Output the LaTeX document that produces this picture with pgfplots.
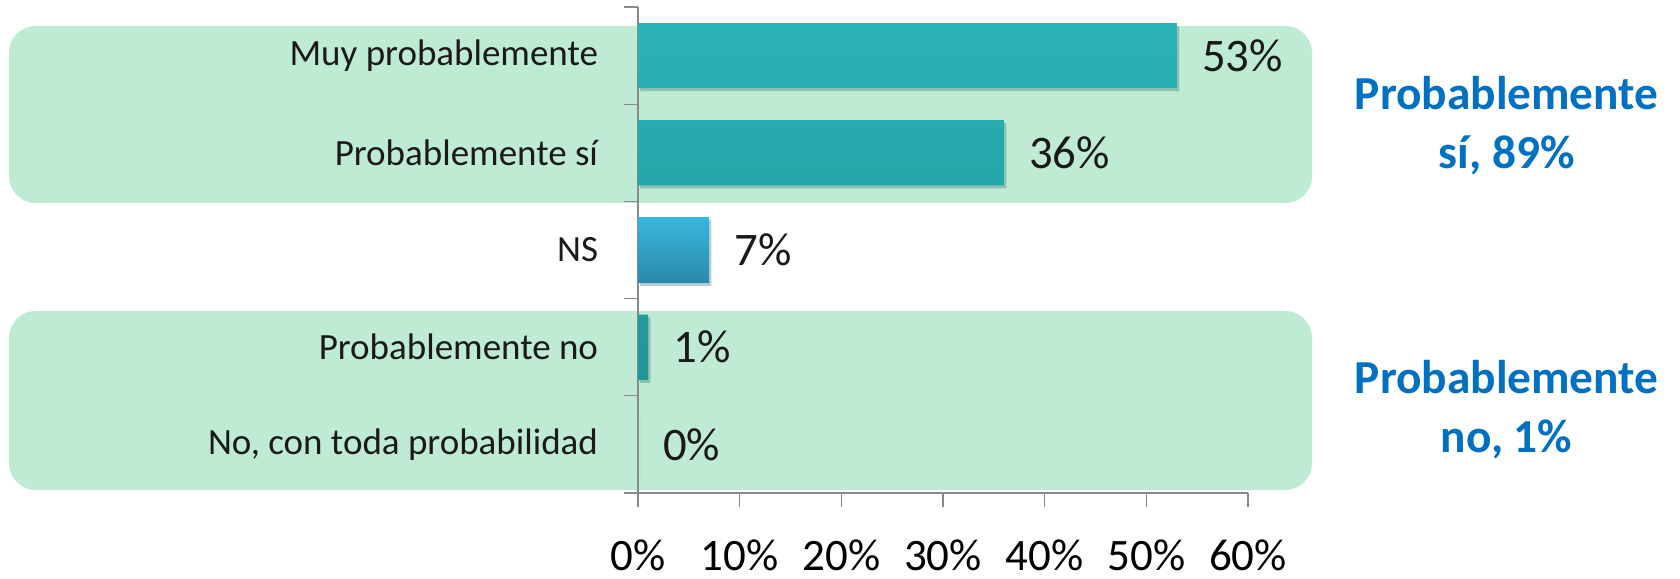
\documentclass[border=0pt]{standalone}
\usepackage{fontspec}
\setmainfont{Carlito}
\usepackage{pgfplots}
\pgfplotsset{compat=1.18}
\definecolor{boxgreen}{HTML}{BFEBD5}
\definecolor{barTop}{HTML}{2AB3B8}
\definecolor{barBot}{HTML}{1E8E8F}
\definecolor{nsTop}{HTML}{39B7DB}
\definecolor{nsBot}{HTML}{2A8AAB}
\definecolor{axgray}{HTML}{8A8A8A}
\definecolor{txt}{HTML}{1A1A1A}
\definecolor{blueT}{HTML}{0070C0}
\begin{document}
\begin{tikzpicture}
\useasboundingbox (0,0) rectangle (504pt,173.7pt);
\fill[boxgreen, rounded corners=8pt] (2.7pt,112.8pt) rectangle (393.6pt,165.9pt);
\fill[boxgreen, rounded corners=8pt] (2.7pt,26.7pt) rectangle (393.6pt,80.4pt);
\begin{axis}[
  at={(191.4pt,25.8pt)}, anchor=south west,
  width=183pt, height=145.8pt, scale only axis,
  xbar, bar width=0.67, bar shift=0pt,
  xmin=0, xmax=60, ymin=-0.5, ymax=4.5,
  axis x line*=bottom, axis y line*=left,
  axis line style={draw=axgray, line width=0.4pt},
  xtick={0,10,20,30,40,50,60},
  xticklabels={0\%,10\%,20\%,30\%,40\%,50\%,60\%},
  x tick style={draw=axgray, line width=0.4pt},
  y tick style={draw=axgray, line width=0.4pt},
  tick align=outside, major tick length=4.2pt,
  xticklabel style={font=\fontsize{13.5pt}{16pt}\selectfont, text=black, anchor=center, yshift=-14.6pt},
  ytick={-0.5,0.5,1.5,2.5,3.5,4.5},
  yticklabels={},
  extra y ticks={0,1,2,3,4},
  extra y tick labels={{No, con toda probabilidad},{Probablemente no},{NS},{Probablemente sí},{Muy probablemente}},
  extra y tick style={major tick length=0pt, yticklabel style={font=\fontsize{11.1pt}{13pt}\selectfont, text=txt, anchor=east, xshift=-11.8pt, inner sep=0pt}},
  /pgf/number format/assume math mode=true,
  nodes near coords={\pgfmathprintnumber{\pgfplotspointmeta}\%},
  nodes near coords style={font=\fontsize{14pt}{16pt}\selectfont, text=txt, anchor=west, inner sep=0pt, xshift=7.4pt},
  clip=false,
]
\addplot[draw=none, top color=barTop, bottom color=barBot,
  preaction={fill=black, fill opacity=0.16, transform canvas={xshift=0.7pt,yshift=-0.9pt}}]
  coordinates {(53,4) (36,3) (1,1) (0,0)};
\addplot[draw=none, top color=nsTop, bottom color=nsBot,
  preaction={fill=black, fill opacity=0.16, transform canvas={xshift=0.7pt,yshift=-0.9pt}}]
  coordinates {(7,2)};
\end{axis}
\node[text=blueT, font=\bfseries\fontsize{14.2pt}{17.7pt}\selectfont, align=center] at (452pt,136pt) {Probablemente\\sí, 89\%};
\node[text=blueT, font=\bfseries\fontsize{14.2pt}{17.7pt}\selectfont, align=center] at (452pt,50.9pt) {Probablemente\\no, 1\%};
\end{tikzpicture}
\end{document}
